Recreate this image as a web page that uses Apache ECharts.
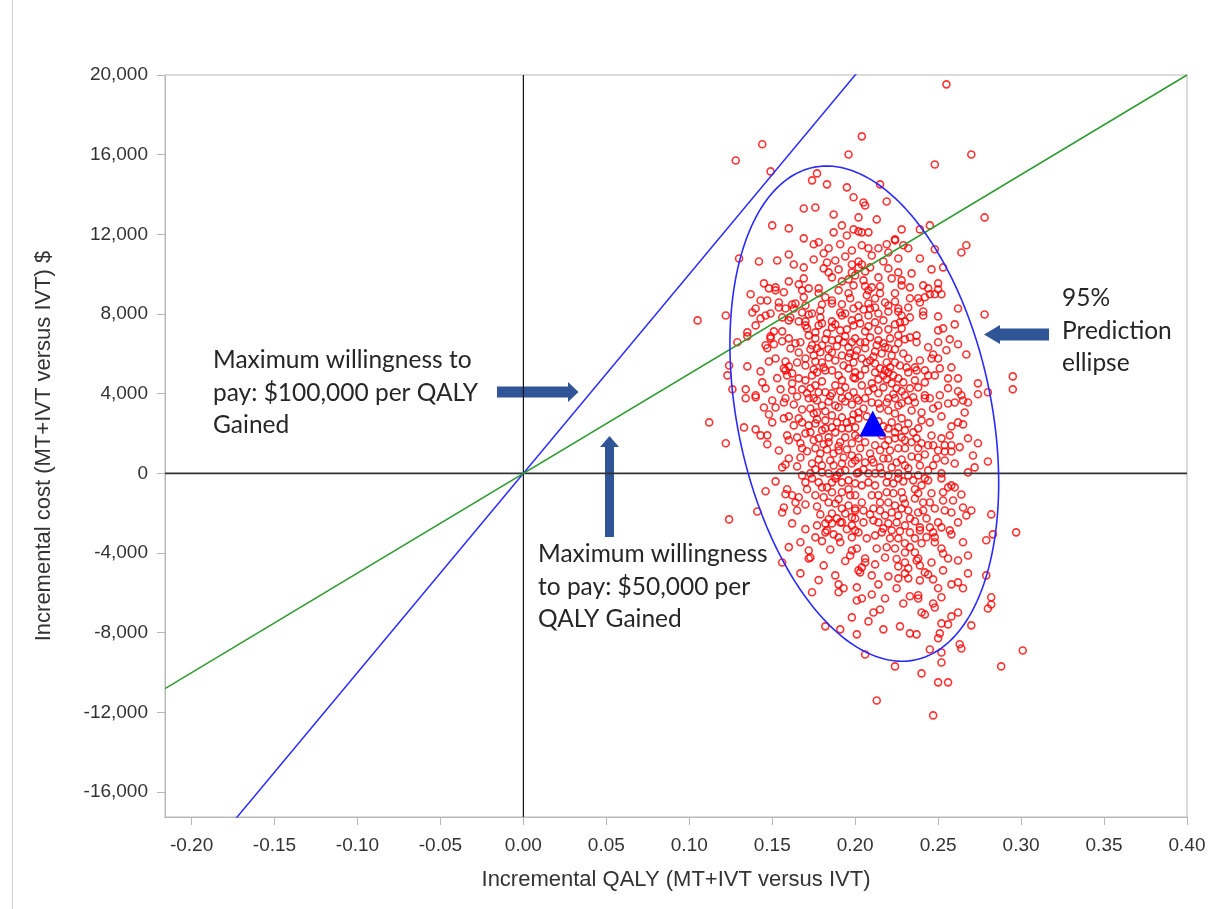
<!DOCTYPE html>
<html>
<head>
<meta charset="utf-8">
<script src="https://cdn.jsdelivr.net/npm/echarts@6/dist/echarts.min.js"></script>
<style>
html,body{margin:0;padding:0;background:#fff;}
#chart{width:1216px;height:909px;}
</style>
</head>
<body>
<div id="chart"></div>
<script>
// ---- axis ranges and ticks ----
const X_MIN = -0.216, X_MAX = 0.40;
const Y_MIN = -17250, Y_MAX = 20000;
const X_TICKS = [-0.20, -0.15, -0.10, -0.05, 0.00, 0.05, 0.10, 0.15, 0.20, 0.25, 0.30, 0.35, 0.40];
const Y_TICKS = [-16000, -12000, -8000, -4000, 0, 4000, 8000, 12000, 16000, 20000];

// willingness-to-pay thresholds ($ per QALY)
const WTP = [100000, 50000];

// mean incremental QALY / cost (triangle)
const MEAN_POINT = [0.2106, 2500];

// 95% prediction ellipse parameters: centre x, centre y, x semi-extent, y semi-extent, cos(phase)
const ELLIPSE = [0.2055, 3000, 0.081, 12430, -0.28];

// bootstrap simulations [incremental QALY, incremental cost]
const SIMS = [
[0.144,16520],[0.128,15710],[0.149,15160],[0.196,16010],[0.204,16920],[0.177,15060],[0.174,14710],[0.183,14510],[0.195,14360],[0.199,13860],
[0.169,13300],[0.176,13350],[0.187,13000],[0.192,12450],[0.187,12100],[0.199,12250],[0.202,12850],[0.150,12450],[0.160,12300],[0.169,11800],
[0.202,12150],[0.255,19530],[0.270,16010],[0.248,15510],[0.215,14510],[0.205,13600],[0.206,13450],[0.219,13650],[0.213,12750],[0.278,12850],
[0.245,12450],[0.239,12250],[0.228,12250],[0.204,12100],[0.208,12100],[0.224,11750],
[0.175,11500],[0.178,11600],[0.184,11300],[0.191,11500],[0.198,11190],[0.130,10790],[0.142,10640],[0.153,10690],[0.160,10990],[0.163,10490],
[0.169,10340],[0.183,10590],[0.188,10690],[0.194,10890],[0.198,10490],[0.184,10090],[0.186,9840],[0.192,9640],[0.198,10090],[0.202,10340],
[0.145,9540],[0.148,9290],[0.152,9340],[0.152,9190],[0.157,9090],[0.137,8990],[0.166,9490],[0.168,9190],[0.172,9290],[0.169,8840],
[0.178,9290],[0.178,9040],[0.182,8840],[0.186,8680],[0.190,9190],[0.196,9040],[0.197,8790],[0.199,9440],[0.143,8680],[0.147,8680],
[0.154,8580],[0.154,8330],[0.158,8280],[0.162,8480],[0.164,8530],[0.163,8280],[0.140,8280],[0.138,8080],[0.146,7930],[0.149,8030],
[0.156,7830],[0.161,7830],[0.160,7680],[0.168,8080],[0.172,7980],[0.174,8030],[0.179,8180],[0.179,7830],[0.186,8530],[0.186,7630],
[0.191,8080],[0.192,7930],[0.194,8030],[0.199,8280],[0.198,7680],[0.105,7680],[0.122,7930],[0.140,7430],[0.135,7080],[0.135,6880],
[0.151,7130],[0.156,7130],[0.166,7630],[0.170,7630],[0.170,7430],[0.178,7430],[0.180,7530],[0.186,7330],[0.191,7180],[0.199,7430],
[0.129,6580],[0.146,6430],[0.147,6280],[0.149,6780],[0.151,6480],[0.160,6780],[0.164,6530],[0.167,6580],[0.172,6930],[0.176,6780],
[0.174,6430],[0.177,6280],[0.180,6430],[0.182,6730],[0.186,6680],[0.190,6730],[0.193,6580],[0.196,6330],[0.198,6580],[0.201,6170],
[0.124,5420],[0.135,5370],[0.148,5620],[0.152,5770],[0.158,5620],[0.160,5370],[0.166,6070],[0.170,5770],[0.175,5920],[0.176,5620],
[0.180,5570],[0.184,5820],[0.186,6070],[0.192,5920],[0.196,5820],[0.199,5570],[0.123,4920],[0.143,5120],[0.158,5170],[0.159,4920],
[0.162,5020],[0.166,4770],[0.170,4670],[0.174,4920],[0.177,5070],[0.182,5170],[0.186,5170],[0.190,4920],[0.192,4670],[0.196,5270],
[0.200,5070],[0.126,4220],[0.134,4220],[0.144,4570],[0.146,4270],[0.140,3920],[0.155,4220],[0.162,4170],[0.168,4220],[0.173,4270],
[0.178,4070],[0.182,4070],[0.186,4020],[0.191,4120],[0.194,4320],[0.199,4070],[0.158,3770],[0.175,3770],[0.192,3770],
[0.208,11300],[0.214,11300],[0.219,11500],[0.224,11700],[0.229,11450],[0.204,11450],[0.220,11090],[0.226,10790],[0.232,11300],[0.239,10790],
[0.248,11250],[0.264,11090],[0.267,11450],[0.202,10640],[0.204,10490],[0.209,10340],[0.220,10290],[0.222,9790],[0.228,9690],[0.228,9440],
[0.234,10040],[0.246,10240],[0.253,10340],[0.200,9940],[0.205,9690],[0.210,9340],[0.208,9190],[0.207,8940],[0.215,9040],[0.224,9040],
[0.233,8790],[0.238,8790],[0.239,8580],[0.242,8840],[0.245,8990],[0.248,8990],[0.252,8990],[0.241,9440],[0.244,9290],[0.250,9540],
[0.250,9240],[0.202,8430],[0.208,8530],[0.209,8280],[0.218,8580],[0.220,8430],[0.220,8130],[0.226,8280],[0.226,8130],[0.232,8330],
[0.241,8130],[0.241,7930],[0.233,7830],[0.228,7930],[0.250,7880],[0.262,8280],[0.278,7980],[0.202,7830],[0.203,7530],[0.208,7930],
[0.208,7380],[0.214,8030],[0.220,7230],[0.224,7480],[0.227,7580],[0.230,7630],[0.228,7280],[0.233,6830],[0.237,6930],[0.237,6580],
[0.250,7180],[0.253,7280],[0.260,7480],[0.257,6730],[0.250,6580],[0.200,6780],[0.203,6580],[0.206,6580],[0.214,6680],[0.213,6430],
[0.217,6530],[0.212,6120],[0.216,6020],[0.220,6280],[0.226,6930],[0.226,6530],[0.222,5920],[0.229,6020],[0.224,5570],[0.244,6330],
[0.247,5970],[0.246,5770],[0.250,5770],[0.267,5970],[0.200,5920],[0.204,5770],[0.207,5570],[0.209,5670],[0.212,5520],[0.219,5570],
[0.215,5270],[0.212,5070],[0.218,5170],[0.217,4920],[0.220,5070],[0.223,4920],[0.226,4770],[0.229,4570],[0.232,5070],[0.236,5320],
[0.237,5170],[0.242,5170],[0.244,4920],[0.248,4920],[0.251,5270],[0.256,4770],[0.258,5320],[0.262,4770],[0.242,4570],[0.238,4320],
[0.274,4520],[0.295,4870],[0.295,4220],[0.200,4770],[0.204,4420],[0.210,4520],[0.211,4270],[0.217,4320],[0.222,4520],[0.225,4270],
[0.223,3970],[0.230,3920],[0.235,3820],[0.242,3920],[0.245,3770],[0.251,3920],[0.264,3920],[0.274,3970],[0.280,4070],
[0.134,3770],[0.140,3820],[0.152,3310],[0.157,3560],[0.163,3460],[0.168,3210],[0.173,3260],[0.172,3770],[0.177,3660],[0.180,3410],
[0.184,3610],[0.188,3410],[0.194,3610],[0.198,3460],[0.201,3770],[0.157,2760],[0.160,2860],[0.166,2760],[0.168,2560],[0.163,2410],
[0.177,3060],[0.177,2710],[0.176,2510],[0.182,2660],[0.186,2910],[0.189,2560],[0.192,2810],[0.198,2660],[0.196,2260],[0.192,2260],
[0.186,2310],[0.182,2260],[0.112,2560],[0.133,2310],[0.140,2210],[0.143,1910],[0.147,1910],[0.159,1910],[0.160,1660],[0.165,1810],
[0.167,1510],[0.168,1260],[0.170,2010],[0.173,2060],[0.178,1760],[0.184,1810],[0.184,1560],[0.191,1560],[0.194,1810],[0.198,1510],
[0.200,1910],[0.122,1510],[0.154,1150],[0.176,1260],[0.179,1000],[0.183,1200],[0.187,1000],[0.190,1150],[0.193,800],[0.198,900],
[0.167,800],[0.160,750],[0.156,300],[0.158,450],[0.174,500],[0.180,400],[0.187,400],[0.192,500],[0.198,500],[0.168,-100],
[0.173,0],[0.180,50],[0.184,0],[0.191,50],[0.201,0],[0.170,-450],[0.174,-250],[0.178,-450],[0.180,-700],[0.186,-450],
[0.188,-250],[0.192,-450],[0.196,-350],[0.200,-500],[0.186,-950],[0.159,-800],[0.158,-1050],[0.162,-1100],[0.166,-1200],[0.192,-950],
[0.197,-1100],[0.181,-1200],[0.177,-1660],[0.164,-1460],[0.165,-1860],[0.157,-1710],[0.156,-1960],[0.141,-1910],[0.124,-2310],[0.188,-1510],
[0.192,-1760],[0.194,-2010],[0.196,-1610],[0.200,-1860],[0.186,-2010],[0.189,-2260],[0.192,-2460],[0.198,-2210],[0.177,-2610],[0.182,-2510],
[0.183,-2860],[0.186,-2510],[0.191,-2460],[0.198,-2610],[0.200,-2860],[0.176,-3210],[0.182,-2960],[0.190,-3210],[0.191,-3460],[0.198,-3210],
[0.167,-3460],[0.185,-3820],[0.198,-3870],[0.172,-3870],[0.173,-4220],
[0.202,3660],[0.206,3770],[0.210,3560],[0.214,3510],[0.219,3560],[0.224,3770],[0.226,3410],[0.232,3660],[0.236,3560],[0.242,3770],
[0.247,3260],[0.250,3410],[0.256,3510],[0.260,3560],[0.265,3660],[0.268,3560],[0.252,2860],[0.240,3060],[0.240,2660],[0.262,2560],
[0.265,2460],[0.202,3060],[0.202,2760],[0.200,2310],[0.220,3160],[0.224,3010],[0.228,2760],[0.222,2560],[0.226,2310],[0.220,2260],
[0.230,2160],[0.235,2060],[0.237,1760],[0.234,1560],[0.228,1810],[0.224,1760],[0.220,1660],[0.216,1910],[0.218,1410],[0.212,1410],
[0.206,1560],[0.202,1760],[0.203,1260],[0.209,1000],[0.221,1150],[0.226,1260],[0.230,1260],[0.238,1260],[0.244,1410],[0.247,1410],
[0.250,1150],[0.254,1410],[0.258,1410],[0.257,1910],[0.252,1760],[0.268,1760],[0.274,1510],[0.258,1100],[0.254,1100],[0.271,900],
[0.280,600],[0.202,800],[0.206,550],[0.211,550],[0.215,300],[0.220,750],[0.222,300],[0.225,550],[0.230,400],[0.232,250],
[0.238,800],[0.239,400],[0.244,150],[0.247,400],[0.254,650],[0.260,500],[0.272,300],[0.268,50],[0.252,0],[0.202,50],
[0.208,0],[0.212,0],[0.216,0],[0.220,-100],[0.226,0],[0.232,-100],[0.238,-100],[0.242,-250],[0.208,-450],[0.204,-600],
[0.212,-600],[0.219,-450],[0.223,-500],[0.226,-250],[0.235,-350],[0.240,-600],[0.244,-350],[0.252,-250],[0.256,-700],[0.258,-600],
[0.260,-700],[0.253,-950],[0.200,-1100],[0.204,-1460],[0.210,-1100],[0.214,-1100],[0.219,-950],[0.223,-1000],[0.228,-950],[0.220,-1460],
[0.224,-1610],[0.230,-1510],[0.236,-1260],[0.238,-1000],[0.241,-1460],[0.245,-1460],[0.253,-1360],[0.248,-1760],[0.254,-1860],[0.258,-1960],
[0.265,-1710],[0.270,-1860],[0.267,-2110],[0.282,-2060],[0.262,-2460],[0.200,-1760],[0.205,-1860],[0.211,-1760],[0.215,-1860],[0.218,-2110],
[0.222,-1960],[0.226,-2110],[0.232,-1860],[0.233,-2260],[0.238,-1960],[0.241,-1860],[0.200,-2260],[0.205,-2460],[0.211,-2360],[0.214,-2460],
[0.220,-2510],[0.225,-2460],[0.230,-2610],[0.239,-2710],[0.245,-2710],[0.252,-2710],[0.233,-2960],[0.239,-2860],[0.247,-2960],[0.248,-3210],
[0.248,-3460],[0.252,-3770],[0.265,-3460],[0.279,-3360],[0.283,-3060],[0.297,-2960],[0.253,-4020],[0.268,-4120],[0.202,-2960],[0.207,-3260],
[0.212,-3110],[0.216,-2960],[0.222,-2860],[0.221,-3260],[0.226,-3260],[0.230,-3510],[0.236,-3260],[0.240,-3510],[0.213,-3770],[0.219,-3710],
[0.224,-3770],[0.230,-3970],[0.236,-3970],[0.238,-4270],[0.201,-3770],[0.206,-4270],
[0.156,-4470],[0.172,-4270],[0.167,-5020],[0.174,-5970],[0.190,-5570],[0.193,-5770],[0.190,-5970],[0.201,-5720],[0.201,-6380],[0.198,-7230],
[0.182,-7680],[0.191,-7830],[0.201,-8080],[0.202,-4870],[0.197,-4120],
[0.206,-4470],[0.204,-4720],[0.203,-4970],[0.210,-5120],[0.226,-4670],[0.230,-4470],[0.232,-4770],[0.230,-5020],[0.232,-5270],[0.237,-4370],
[0.239,-4620],[0.242,-4970],[0.244,-5070],[0.239,-5370],[0.256,-4270],[0.253,-4870],[0.279,-5120],[0.225,-5770],[0.233,-6170],[0.238,-6120],
[0.238,-6280],[0.250,-5770],[0.252,-6220],[0.262,-5470],[0.265,-5770],[0.204,-6280],[0.247,-6530],[0.248,-6730],[0.282,-6220],[0.282,-6580],
[0.280,-6780],[0.215,-6830],[0.211,-6980],[0.240,-6980],[0.242,-7080],[0.258,-7180],[0.262,-6980],[0.208,-7430],[0.217,-7830],[0.227,-7680],
[0.233,-8030],[0.237,-8080],[0.252,-7530],[0.256,-7580],[0.270,-7630],[0.251,-8030],[0.250,-8280],[0.263,-8580],[0.264,-8790],[0.245,-8840],
[0.252,-8990],[0.252,-9490],[0.206,-9090],[0.224,-9690],[0.240,-10040],[0.250,-10490],[0.256,-10490],[0.301,-8890],[0.288,-9690],[0.213,-11400],
[0.247,-12150],
// denser core, estimated where circles overlap
[0.171,7280],[0.176,7080],[0.183,7030],[0.188,7480],[0.195,7230],[0.189,6380],[0.184,6230],[0.179,6080],[0.173,6230],[0.194,6880],
[0.197,6030],[0.188,5670],[0.181,5320],[0.175,5220],[0.170,5420],[0.193,5420],[0.199,4820],[0.188,4420],[0.180,4620],[0.176,4420],
[0.171,4020],[0.185,3870],[0.196,3870],[0.190,3320],[0.182,3120],[0.175,3010],[0.165,3860],[0.162,4520],[0.165,5570],[0.161,6270],
[0.156,6630],[0.157,5270],[0.153,4780],[0.150,3660],[0.148,2960],
[0.205,8230],[0.212,8330],[0.217,7680],[0.212,7580],[0.206,7130],[0.214,7180],[0.221,6780],[0.209,6830],[0.206,6280],[0.211,5870],
[0.218,6330],[0.224,6230],[0.230,6730],[0.232,5770],[0.227,5420],[0.221,5320],[0.206,5220],[0.203,4920],[0.214,4720],[0.208,4120],
[0.214,4020],[0.220,3770],[0.228,4120],[0.233,4270],[0.219,4720],[0.231,5320],[0.239,5670],[0.236,4670],[0.205,3260],[0.215,3260],
[0.234,3160],[0.228,3520],
[0.172,2410],[0.180,2160],[0.188,2060],[0.195,2560],[0.199,2960],[0.190,1360],[0.181,1460],[0.175,1660],[0.171,1110],[0.178,700],
[0.185,650],[0.195,1200],[0.200,650],[0.194,150],[0.189,-100],[0.176,200],[0.165,350],[0.171,-800],[0.183,-700],[0.196,-800],
[0.190,-1300],[0.184,-1460],[0.176,-1100],[0.170,-1560],[0.179,-2060],[0.184,-2300],[0.195,-2800],[0.187,-3060],[0.180,-3400],[0.170,-2800],
[0.162,-2510],[0.160,-3700],[0.194,-4400],[0.181,-4620],[0.188,-5120],[0.178,-5360],
[0.207,2860],[0.214,2610],[0.210,2110],[0.217,2360],[0.224,2060],[0.232,2510],[0.238,2260],[0.245,2560],[0.246,1900],[0.240,1510],
[0.230,1660],[0.215,1160],[0.210,700],[0.217,750],[0.228,700],[0.234,850],[0.242,950],[0.249,750],[0.205,200],[0.229,-400],
[0.236,-800],[0.246,-1000],[0.229,-1260],[0.215,-1460],[0.209,-2060],[0.228,-1760],[0.236,-2400],[0.243,-2260],[0.250,-2460],[0.217,-2760],
[0.227,-2900],[0.243,-3200],[0.233,-3700],[0.218,-4220],[0.225,-4300],[0.212,-4570],[0.246,-4470],[0.220,-5170],[0.214,-5570],[0.226,-5270],
[0.247,-5320],[0.210,-6080],[0.229,-6530],[0.218,-6280],
[0.181,10290],[0.190,10240],[0.196,9740],[0.206,10140],[0.214,9840],[0.217,10640],[0.226,10090],[0.210,10940],[0.195,11940],[0.181,11050],
[0.175,10740],[0.169,9790],[0.160,9640],[0.215,9390],[0.224,8630],[0.233,9340],[0.212,8780],[0.206,9400],[0.192,8490],[0.180,8480],
[0.170,8430],
[0.255,6180],[0.262,6480],[0.256,4280],[0.262,4120],[0.266,3060],[0.258,2360],[0.263,1320],[0.259,-1360],[0.264,-1060],[0.258,-3060],
[0.262,-4370],[0.268,-5020],[0.258,-5570],[0.257,-2860],[0.145,3310],[0.147,1460],[0.150,2560],[0.152,-400],[0.146,-900],[0.149,6880],
[0.143,7780]
];

const chart = echarts.init(document.getElementById('chart'), null, {renderer: 'canvas'});

// ellipse outline from its parameters
const [ecx, ecy, erx, ery, ecos] = ELLIPSE;
const ephi = Math.acos(ecos);
const ellipseData = [];
for (let i = 0; i <= 240; i++) {
  const t = i / 240 * 2 * Math.PI;
  ellipseData.push([ecx + erx * Math.cos(t), ecy + ery * Math.cos(t - ephi)]);
}

const wtpSeries = WTP.map((k, i) => ({
  type: 'line',
  data: [[X_MIN, k * X_MIN], [X_MAX, k * X_MAX]],
  symbol: 'none',
  clip: true,
  silent: true,
  z: 3,
  lineStyle: {color: i === 0 ? '#2a2aff' : '#2f9a2f', width: 1.5}
}));

const AX_COLOR = '#b8b8b8';
const LABEL_FONT = 'Liberation Sans, Arial, sans-serif';

chart.setOption({
  backgroundColor: '#ffffff',
  animation: false,
  grid: {left: 165, right: 29, top: 75, bottom: 92, show: true, borderColor: AX_COLOR, borderWidth: 1, containLabel: false},
  xAxis: {
    type: 'value', min: X_MIN, max: X_MAX,
    name: 'Incremental QALY (MT+IVT versus IVT)', nameLocation: 'middle', nameGap: 52,
    nameTextStyle: {fontSize: 22, color: '#333', fontFamily: LABEL_FONT},
    axisLine: {show: true, onZero: false, lineStyle: {color: AX_COLOR, width: 1}},
    axisTick: {show: true, length: 8, customValues: X_TICKS, lineStyle: {color: AX_COLOR}},
    axisLabel: {customValues: X_TICKS, fontSize: 19, color: '#333', fontFamily: LABEL_FONT, margin: 19,
      formatter: v => v.toFixed(2)},
    splitLine: {show: false}
  },
  yAxis: {
    type: 'value', min: Y_MIN, max: Y_MAX,
    name: 'Incremental cost (MT+IVT versus IVT) $', nameLocation: 'middle', nameGap: 110, nameRotate: 90,
    nameTextStyle: {fontSize: 22, color: '#333', fontFamily: LABEL_FONT},
    axisLine: {show: true, onZero: false, lineStyle: {color: AX_COLOR, width: 1}},
    axisTick: {show: true, length: 8, customValues: Y_TICKS, lineStyle: {color: AX_COLOR}},
    axisLabel: {customValues: Y_TICKS, fontSize: 19, color: '#333', fontFamily: LABEL_FONT, margin: 17,
      formatter: v => v.toLocaleString('en-US')},
    splitLine: {show: false}
  },
  series: [
    {
      type: 'scatter', data: SIMS, symbol: 'circle', symbolSize: 7, z: 2, silent: true,
      large: false, progressive: 0,
      itemStyle: {color: 'rgba(255,255,255,0)', borderColor: '#ff0000', borderWidth: 1.6}
    },
    {
      type: 'line', data: [[0, Y_MIN], [0, Y_MAX]], symbol: 'none', silent: true, z: 3,
      lineStyle: {color: '#111', width: 1.2}
    },
    {
      type: 'line', data: [[X_MIN, 0], [X_MAX, 0]], symbol: 'none', silent: true, z: 3,
      lineStyle: {color: '#333', width: 1.6}
    },
    ...wtpSeries,
    {
      type: 'line', data: ellipseData, symbol: 'none', silent: true, z: 4, smooth: false,
      lineStyle: {color: '#2a2aff', width: 1.6}
    },
    {
      type: 'scatter', data: [MEAN_POINT], symbol: 'triangle', symbolSize: [27, 26], zlevel: 1, z: 10, silent: true,
      itemStyle: {color: '#0000ff', opacity: 1}
    }
  ],
  graphic: [
    {type: 'line', shape: {x1: 12.5, y1: 0, x2: 12.5, y2: 909}, style: {stroke: '#d0d0d0', lineWidth: 1}, silent: true},
    // annotation texts
    {type: 'text', left: 213, top: 344, style: {text: 'Maximum willingness to\npay: $100,000 per QALY\nGained', font: '24.5px Lato', lineHeight: 32.5, fill: '#262626'}},
    {type: 'text', left: 538, top: 538, style: {text: 'Maximum willingness\nto pay: $50,000 per\nQALY Gained', font: '24.5px Lato', lineHeight: 32.5, fill: '#262626'}},
    {type: 'text', left: 1062, top: 282, style: {text: '95%\nPrediction\nellipse', font: '24.5px Lato', lineHeight: 32.5, fill: '#262626'}},
    // arrows
    {type: 'polygon', shape: {points: [[497,386.5],[568,386.5],[568,382],[578.5,392],[568,402],[568,397.5],[497,397.5]]}, style: {fill: '#2f5597'}},
    {type: 'polygon', shape: {points: [[605,537],[605,447],[600,447],[609.5,436],[619,447],[614,447],[614,537]]}, style: {fill: '#2f5597'}},
    {type: 'polygon', shape: {points: [[1049,328.5],[1000,328.5],[1000,325],[984,334.5],[1000,344],[1000,340.5],[1049,340.5]]}, style: {fill: '#2f5597'}}
  ]
});
</script>
</body>
</html>
